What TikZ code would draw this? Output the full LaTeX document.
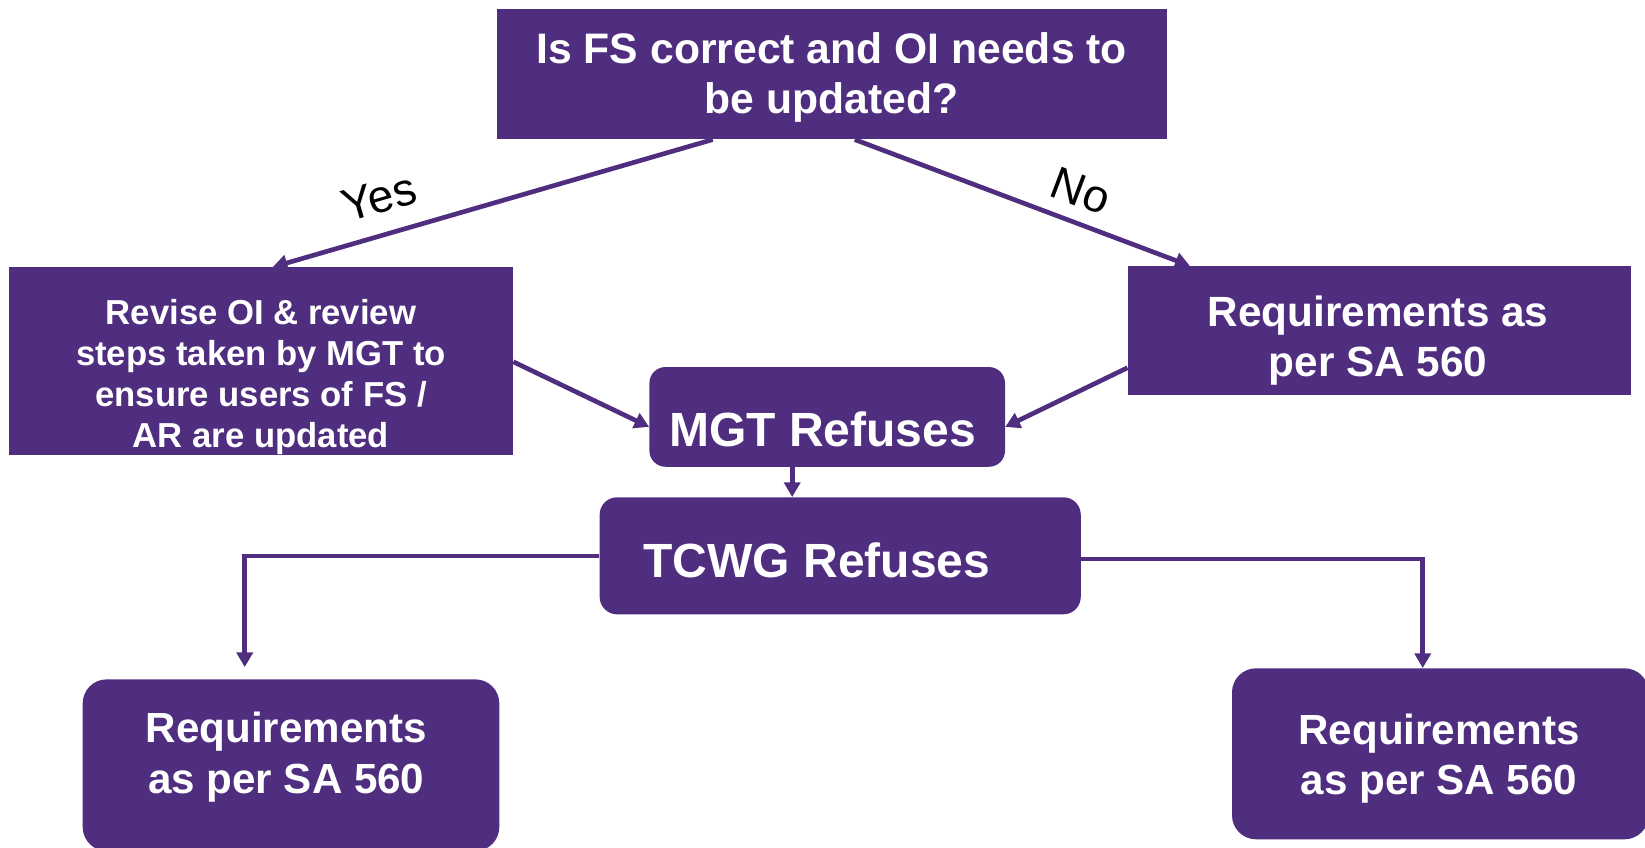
\documentclass[tikz,border=0pt]{standalone}
\usepackage{fontspec}
\setmainfont{Liberation Sans}
\usetikzlibrary{arrows.meta,calc}
\definecolor{gtpurple}{RGB}{80,46,127}
% centred block of bold lines: size, line distance, text
\newcommand{\stack}[3]{\parbox[t]{480pt}{\centering\fontsize{#1}{#2}\selectfont\bfseries #3}}
\begin{document}
\begin{tikzpicture}[x=0.75pt,y=-0.75pt,
  sz/.style 2 args={minimum width={#1*0.75pt},minimum height={#2*0.75pt}},
  sqbox/.style={rectangle,fill=gtpurple,draw=none,inner sep=0pt},
  rbox/.style={sqbox,rounded corners=#1},
  btxt/.style={text=white,anchor=base,inner sep=0pt},
  lbl/.style={text=black,inner sep=0pt,font=\fontsize{34.5pt}{40pt}\selectfont},
  arr/.style={draw=gtpurple,line width=3.5pt,-{Triangle[length=11pt,width=12pt]}}
]
\useasboundingbox (0,0) rectangle (1645,848);

% boxes
\node[sqbox,sz={669.6}{130}]   (q)  at (831.8,74.3)  {};
\node[sqbox,sz={504.4}{187.7}] (l)  at (260.8,361.2) {};
\node[sqbox,sz={503.3}{128.5}] (r)  at (1379.4,330.3) {};
\node[rbox=12pt,sz={355.6}{99.7}] (m) at (827.2,416.9) {};
\node[rbox=13pt,sz={481.1}{117}]  (t) at (840.2,555.8) {};
\node[rbox=18pt,sz={416.6}{171.7}] (bl) at (291,765.2) {};
\node[rbox=18pt,sz={416.6}{171}]   (br) at (1440.3,753.8) {};

% box texts
\node[btxt] (qtext) at (831.7,63.3) {\stack{32pt}{37.5pt}{Is FS correct and OI needs to\\be updated?}};
\node[btxt] (ltext) at (261,325) {\stack{26pt}{30.75pt}{Revise OI \& review\\steps taken by MGT to\\ensure users of FS /\\AR are updated}};
\node[btxt] (rtext) at (1378,326.7) {\stack{31.7pt}{37.5pt}{Requirements as\\per SA 560}};
\node[btxt] (mtext) at (822.5,446) {\stack{36pt}{40pt}{MGT Refuses}};
\node[btxt] (ttext) at (817,577.3) {\stack{36pt}{40pt}{TCWG Refuses}};
\node[btxt] (bltext) at (286.3,742.7) {\stack{31.6pt}{37.9pt}{Requirements\\as per SA 560}};
\node[btxt] (brtext) at (1439,744) {\stack{31.6pt}{37.5pt}{Requirements\\as per SA 560}};

% branch labels
\node[lbl,rotate=16.2]  (yes) at (379,197.5) {Yes};
\node[lbl,rotate=-20.7] (no)  at (1081,191) {No};

% connectors
\draw[arr] ($(q.south west)+(216,0)$) -- ($(l.north west)+(264.4,0)$);
\draw[arr] ($(q.south west)+(358,0)$) -- ($(r.north west)+(62.3,0)$);
\draw[arr] ($(l.north east)+(0,94.7)$) -- ($(m.west)+(0,10)$);
\draw[arr] ($(r.north west)+(0,102)$) -- ($(m.east)+(0,10)$);
\coordinate (mdrop) at ($(m.south)+(-35,0)$);
\draw[arr] (mdrop) -- (mdrop |- t.north);
\draw[arr] ($(t.west)+(0,0.2)$) -| ($(bl.north west)+(162.3,-12)$);
\draw[arr] ($(t.east)+(0,3.2)$) -| ($(br.north west)+(191,0)$);
\end{tikzpicture}
\end{document}
